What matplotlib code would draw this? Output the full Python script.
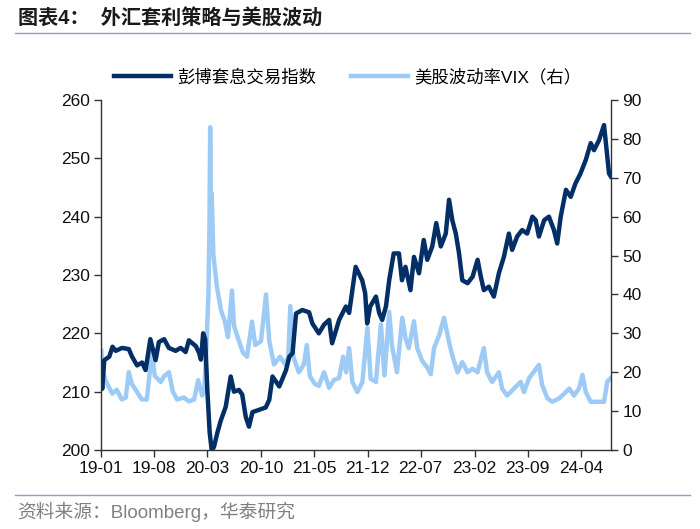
import matplotlib
matplotlib.use("Agg")
import matplotlib.pyplot as plt
import pandas as pd

plt.rcParams["font.family"] = ["Liberation Sans", "Noto Sans CJK SC"]

# 彭博套息交易指数 (左轴)
carry_dates = [
    "2019-01-02", "2019-01-06", "2019-01-14", "2019-02-03", "2019-02-16", "2019-03-01",
    "2019-03-26", "2019-04-22", "2019-05-05", "2019-05-25", "2019-06-14", "2019-06-28",
    "2019-07-17", "2019-08-07", "2019-08-20", "2019-09-10", "2019-09-29", "2019-10-26",
    "2019-11-15", "2019-12-05", "2019-12-18", "2020-01-15", "2020-01-28", "2020-02-04",
    "2020-02-13", "2020-02-21", "2020-03-01", "2020-03-10", "2020-03-18", "2020-03-27",
    "2020-04-10", "2020-04-23", "2020-05-13", "2020-06-02", "2020-06-15", "2020-07-05",
    "2020-07-18", "2020-08-01", "2020-08-14", "2020-08-28", "2020-09-24", "2020-10-20",
    "2020-11-03", "2020-11-16", "2020-12-13", "2021-01-09", "2021-01-22", "2021-02-04",
    "2021-02-18", "2021-03-15", "2021-04-11", "2021-04-24", "2021-05-20", "2021-06-10",
    "2021-06-30", "2021-07-12", "2021-08-09", "2021-09-05", "2021-09-18", "2021-10-14",
    "2021-11-09", "2021-11-21", "2021-11-29", "2021-12-11", "2022-01-03", "2022-01-16",
    "2022-01-28", "2022-02-12", "2022-02-25", "2022-03-15", "2022-04-05", "2022-04-17",
    "2022-05-01", "2022-05-21", "2022-06-04", "2022-06-24", "2022-07-13", "2022-07-27",
    "2022-08-16", "2022-09-01", "2022-09-19", "2022-10-09", "2022-10-22", "2022-11-04",
    "2022-11-18", "2022-12-01", "2022-12-14", "2023-01-04", "2023-01-24", "2023-02-13",
    "2023-02-26", "2023-03-10", "2023-03-30", "2023-04-19", "2023-05-09", "2023-05-29",
    "2023-06-18", "2023-07-01", "2023-07-21", "2023-08-10", "2023-08-30", "2023-09-20",
    "2023-10-03", "2023-10-16", "2023-11-06", "2023-11-25", "2023-12-15", "2023-12-28",
    "2024-01-11", "2024-02-01", "2024-02-20", "2024-03-10", "2024-03-30", "2024-04-20",
    "2024-05-10", "2024-05-23", "2024-06-12", "2024-07-02", "2024-07-11", "2024-07-22",
    "2024-07-29",
]
carry_values = [
    212.0, 210.5, 215.4, 216.0, 217.7, 217.0,
    217.5, 217.3, 216.0, 214.5, 215.0, 213.7,
    219.0, 215.4, 218.5, 219.0, 217.5, 217.0,
    217.5, 216.8, 218.8, 217.8, 216.6, 215.5,
    220.0, 219.0, 210.0, 203.0, 200.0, 200.5,
    203.0, 205.0, 207.4, 212.6, 210.0, 210.3,
    209.5, 205.7, 204.0, 206.5, 206.9, 207.3,
    208.6, 212.6, 210.9, 213.7, 216.0, 216.6,
    223.4, 224.0, 223.6, 221.7, 220.0, 221.5,
    222.3, 218.3, 222.3, 224.6, 223.5, 231.4,
    229.1, 226.9, 221.7, 224.6, 226.3, 223.5,
    222.3, 224.6, 229.1, 233.7, 233.7, 229.1,
    231.4, 227.4, 233.1, 230.3, 236.0, 232.6,
    234.9, 238.9, 234.9, 237.1, 242.9, 239.4,
    237.1, 233.7, 229.1, 228.6, 229.7, 232.6,
    229.7, 227.4, 228.0, 226.3, 230.3, 233.1,
    237.1, 234.3, 236.6, 237.7, 237.1, 240.0,
    239.4, 236.6, 239.4, 240.0, 237.7, 235.4,
    240.0, 244.6, 243.4, 245.7, 247.4, 249.7,
    252.6, 251.4, 253.1, 255.7, 252.0, 247.4,
    246.9,
]

# 美股波动率VIX (右轴)
vix_dates = [
    "2019-01-02", "2019-01-06", "2019-01-18", "2019-02-03", "2019-02-15", "2019-03-05",
    "2019-03-25", "2019-04-10", "2019-04-22", "2019-05-04", "2019-05-24", "2019-06-13",
    "2019-07-03", "2019-07-23", "2019-08-04", "2019-08-28", "2019-09-10", "2019-09-29",
    "2019-10-15", "2019-11-01", "2019-11-28", "2019-12-18", "2020-01-08", "2020-01-24",
    "2020-02-09", "2020-02-17", "2020-02-25", "2020-03-05", "2020-03-09", "2020-03-12",
    "2020-03-15", "2020-03-18", "2020-03-25", "2020-04-08", "2020-04-24", "2020-05-10",
    "2020-05-22", "2020-06-07", "2020-06-15", "2020-07-05", "2020-07-21", "2020-08-06",
    "2020-08-26", "2020-09-08", "2020-10-01", "2020-10-21", "2020-11-03", "2020-11-22",
    "2020-12-16", "2021-01-06", "2021-01-18", "2021-01-26", "2021-02-07", "2021-03-01",
    "2021-03-21", "2021-04-02", "2021-04-14", "2021-05-04", "2021-05-20", "2021-06-10",
    "2021-06-30", "2021-07-19", "2021-08-09", "2021-08-25", "2021-09-06", "2021-09-18",
    "2021-10-01", "2021-10-21", "2021-11-10", "2021-11-30", "2021-12-13", "2022-01-03",
    "2022-01-23", "2022-02-06", "2022-02-25", "2022-03-08", "2022-03-28", "2022-04-18",
    "2022-05-01", "2022-05-14", "2022-06-04", "2022-06-17", "2022-07-07", "2022-07-27",
    "2022-08-10", "2022-08-23", "2022-09-13", "2022-10-02", "2022-10-22", "2022-11-04",
    "2022-11-25", "2022-12-14", "2023-01-04", "2023-01-24", "2023-02-13", "2023-03-10",
    "2023-03-23", "2023-04-12", "2023-05-09", "2023-05-22", "2023-06-11", "2023-07-08",
    "2023-08-04", "2023-08-17", "2023-09-07", "2023-09-27", "2023-10-16", "2023-10-29",
    "2023-11-19", "2023-12-08", "2024-01-05", "2024-02-01", "2024-02-14", "2024-03-04",
    "2024-03-24", "2024-04-07", "2024-04-20", "2024-05-10", "2024-06-06", "2024-07-02",
    "2024-07-15", "2024-07-29",
]
vix_values = [
    25.5, 21.0, 18.0, 16.0, 14.5, 15.5,
    13.0, 13.5, 20.0, 17.0, 15.0, 13.0,
    13.0, 25.0, 19.0, 17.5, 19.0, 20.0,
    15.0, 13.0, 13.5, 12.5, 13.0, 18.0,
    14.0, 15.0, 25.0, 40.0, 57.0, 83.0,
    60.0, 66.0, 50.0, 42.0, 36.0, 33.0,
    29.0, 41.0, 32.0, 28.0, 25.0, 24.0,
    33.0, 27.0, 28.0, 40.0, 28.0, 22.0,
    24.0, 22.0, 24.0, 37.0, 24.0, 20.0,
    22.0, 27.0, 19.0, 17.0, 16.5, 20.0,
    16.0, 18.0, 18.5, 24.0, 20.0, 26.2,
    17.5, 14.9, 17.5, 31.4, 18.3, 17.5,
    32.3, 19.2, 35.5, 26.9, 20.0, 34.0,
    28.8, 26.2, 33.1, 26.2, 22.9, 21.2,
    19.5, 26.2, 29.6, 34.0, 27.7, 24.3,
    20.0, 22.6, 20.0, 20.9, 20.0, 26.2,
    20.0, 17.5, 20.0, 15.8, 14.0, 15.8,
    17.5, 14.9, 18.5, 20.2, 21.9, 16.7,
    13.3, 12.4, 13.3, 14.9, 15.8, 14.0,
    15.8, 19.3, 14.9, 12.4, 12.4, 12.4,
    17.6, 18.5,
]

x_ticks = ["19-01", "19-08", "20-03", "20-10", "21-05", "21-12", "22-07", "23-02", "23-09", "24-04"]

dark = "#032f66"
light = "#9ecbf6"
spine_c = "#333333"

fig = plt.figure(figsize=(7.0, 5.29), dpi=100)
ax = fig.add_axes([0.1443, 0.1493, 0.7286, 0.6617])
ax2 = ax.twinx()

l1, = ax.plot(pd.to_datetime(carry_dates), carry_values, color=dark, linewidth=3.2,
              solid_joinstyle="round", label="彭博套息交易指数")
l2, = ax2.plot(pd.to_datetime(vix_dates), vix_values, color=light, linewidth=3.2,
               solid_joinstyle="round", label="美股波动率VIX（右）")

# dark line on top of the light one
ax.set_zorder(ax2.get_zorder() + 1)
ax.patch.set_visible(False)

ax.set_ylim(200, 260)
ax.set_yticks(range(200, 261, 10))
ax2.set_ylim(0, 90)
ax2.set_yticks(range(0, 91, 10))

tick_pos = pd.to_datetime(["20" + t + "-01" for t in x_ticks])
ax.set_xlim(pd.Timestamp("2019-01-01"), pd.Timestamp("2024-07-30"))
ax.set_xticks(tick_pos)
ax.set_xticklabels(x_ticks)

for a in (ax, ax2):
    a.spines["top"].set_visible(False)
    for s in ("left", "right", "bottom"):
        a.spines[s].set_color(spine_c)
        a.spines[s].set_linewidth(1.0)
    a.tick_params(direction="out", length=5, width=1, color=spine_c,
                  labelsize=12.5, labelcolor="#111111", pad=3)
ax.spines["right"].set_visible(False)
ax2.spines["left"].set_visible(False)
ax2.spines["bottom"].set_visible(False)

leg = fig.legend(handles=[l1, l2], loc="center", bbox_to_anchor=(0.497, 0.854), ncol=2,
                 frameon=False, fontsize=12.5, handlelength=3.3, handletextpad=0.35,
                 columnspacing=2.0)

fig.text(0.026, 0.966, "图表4：  外汇套利策略与美股波动", fontsize=14.5, fontweight="bold",
         color="#1a1a1a", va="center", ha="left")
fig.add_artist(plt.Line2D([0.021, 0.986], [0.938, 0.938], color="#8ba3bd", linewidth=1.0))

fig.add_artist(plt.Line2D([0.021, 0.986], [0.064, 0.064], color="#8ba3bd", linewidth=1.0))
fig.text(0.024, 0.032, "资料来源：Bloomberg，华泰研究", fontsize=13.5, color="#808080",
         va="center", ha="left")

fig.savefig("out.png", dpi=100)
